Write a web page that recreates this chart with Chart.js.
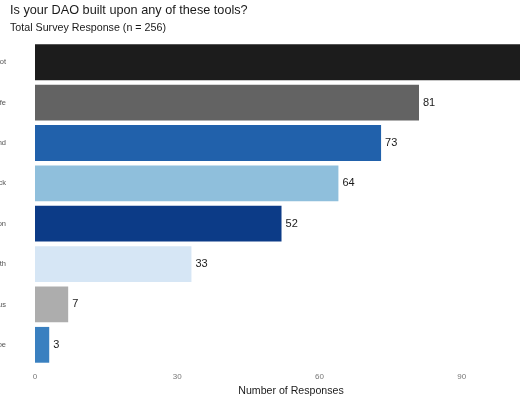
<!DOCTYPE html>
<html>
<head>
<meta charset="utf-8">
<script src="https://cdn.jsdelivr.net/npm/chart.js@4"></script>
<style>
  html, body { margin: 0; padding: 0; background: #fff; }
  #wrap { width: 520px; height: 400px; overflow: hidden; }
</style>
</head>
<body>
<div id="wrap">
  <canvas id="toolsChart" width="560" height="400" style="width:560px;height:400px"></canvas>
</div>
<script>
// Tools (labels are cut off at the left edge in the source picture)
const tools = ['Snapshot', 'Gnosis Safe', 'Collab.Land', 'DAOstack', 'Aragon', 'Commonwealth', 'DAOhaus', 'Coordinape'];
const responses = [104, 81, 73, 64, 52, 33, 7, 3];
const barColors = ['#1c1c1c', '#636363', '#2161ab', '#8fbfdc', '#0c3b87', '#d6e6f5', '#adadad', '#3a80c0'];
const xTicks = [0, 30, 60, 90];

const FONT = '"Liberation Sans", Arial, sans-serif';

// Value labels at the end of each bar
const valueLabels = {
  id: 'valueLabels',
  afterDatasetsDraw(chart) {
    const ctx = chart.ctx;
    const meta = chart.getDatasetMeta(0);
    ctx.save();
    ctx.font = '11px ' + FONT;
    ctx.fillStyle = '#1a1a1a';
    ctx.textAlign = 'left';
    ctx.textBaseline = 'middle';
    meta.data.forEach((bar, i) => {
      ctx.fillText(String(responses[i]), bar.x + 4, bar.y);
    });
    ctx.restore();
  }
};

// let the category labels run off the left edge like in the source
const labelClip = {
  id: 'labelClip',
  afterLayout(chart) {
    chart.scales.y.left = 0;
  }
};

const toolsCtx = document.getElementById('toolsChart').getContext('2d');
const toolsChart = new Chart(toolsCtx, {
  type: 'bar',
  data: {
    labels: tools,
    datasets: [{
      data: responses,
      backgroundColor: barColors,
      borderWidth: 0,
      barPercentage: 0.887,
      categoryPercentage: 1
    }]
  },
  plugins: [valueLabels, labelClip],
  options: {
    indexAxis: 'y',
    responsive: false,
    animation: false,
    layout: { padding: { left: 10, right: 13, top: 2, bottom: 3 } },
    plugins: {
      legend: { display: false },
      tooltip: { enabled: false },
      title: {
        display: true,
        text: 'Is your DAO built upon any of these tools?',
        align: 'start',
        color: '#1a1a1a',
        font: { family: FONT, size: 12.7, weight: 'normal' },
        padding: { top: 1, bottom: 3 }
      },
      subtitle: {
        display: true,
        text: 'Total Survey Response (n = 256)',
        align: 'start',
        color: '#1a1a1a',
        font: { family: FONT, size: 10.7 },
        padding: { top: 0, bottom: 8 }
      }
    },
    scales: {
      x: {
        min: 0,
        max: 108,
        afterBuildTicks(scale) {
          scale.ticks = xTicks.map(v => ({ value: v }));
        },
        afterFit(scale) {
          scale.height = 32;
        },
        grid: { display: false, drawTicks: false },
        border: { display: false },
        ticks: {
          color: '#777',
          padding: 7,
          font: { family: FONT, size: 8 }
        },
        title: {
          display: true,
          text: 'Number of Responses',
          color: '#1a1a1a',
          padding: { top: 0, bottom: 0 },
          font: { family: FONT, size: 10.6 }
        }
      },
      y: {
        afterFit(scale) {
          scale.width = 25;
        },
        grid: { display: false, drawTicks: false },
        border: { display: false },
        ticks: {
          color: '#555',
          padding: 29,
          font: { family: FONT, size: 7.5 }
        }
      }
    }
  }
});
</script>
</body>
</html>
